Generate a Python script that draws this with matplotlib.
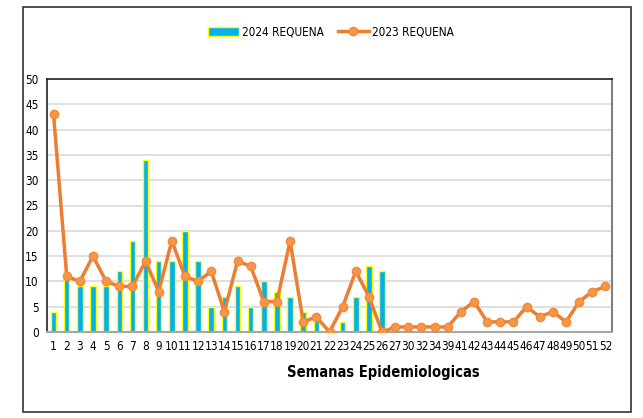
import numpy as np
import matplotlib.pyplot as plt
from matplotlib.patches import Rectangle

plt.rcParams['font.family'] = ['DejaVu Sans']
plt.rcParams['font.stretch'] = 'condensed'

# === Data ===
weeks = ["1", "2", "3", "4", "5", "6", "7", "8", "9", "10",
         "11", "12", "13", "14", "15", "16", "17", "18", "19", "20",
         "21", "22", "23", "24", "25", "26", "27", "30", "32", "34",
         "39", "41", "42", "43", "44", "45", "46", "47", "48", "49",
         "50", "51", "52"]

cases_2024 = [4, 11, 9, 9, 9, 12, 18, 34, 14, 14,
              20, 14, 5, 7, 9, 5, 10, 8, 7, 4,
              3, 0, 2, 7, 13, 12]

cases_2023 = [43, 11, 10, 15, 10, 9, 9, 14, 8, 18,
              11, 10, 12, 4, 14, 13, 6, 6, 18, 2,
              3, 0, 5, 12, 7, 0, 1, 1, 1, 1,
              1, 4, 6, 2, 2, 2, 5, 3, 4, 2,
              6, 8, 9]

x = np.arange(len(weeks))

fig = plt.figure(figsize=(6.43, 4.18), dpi=100)
ax = fig.add_axes([47 / 643, 1 - 332 / 418, 565 / 643, 253 / 418])

bars = ax.bar(x[:len(cases_2024)], cases_2024, width=0.42, color='#00B0F0',
              edgecolor='#FFFF00', linewidth=1, label='2024 REQUENA', zorder=2)
line, = ax.plot(x, cases_2023, color='#ED7D31', linewidth=2.5, marker='o', markersize=6,
                markerfacecolor='#F79646', markeredgecolor='#F08A3C',
                label='2023 REQUENA', zorder=3)

ax.set_xlim(-0.5, len(weeks) - 0.5)
ax.set_ylim(0, 50)
ax.set_yticks(range(0, 51, 5))
ax.set_xticks(x)
ax.set_xticklabels(weeks)
ax.tick_params(axis='both', length=0, labelsize=8.5, pad=6)
ax.grid(axis='y', color='#D9D9D9', linewidth=1.2, zorder=0)
ax.set_axisbelow(True)

for side in ['top', 'left']:
    ax.spines[side].set_color('#222222')
    ax.spines[side].set_linewidth(1.2)
ax.spines['right'].set_color('#808080')
ax.spines['right'].set_linewidth(1.5)
ax.spines['bottom'].set_color('#A6A6A6')
ax.spines['bottom'].set_linewidth(1.5)

fig.text(383 / 643, 1 - 372 / 418, 'Semanas Epidemiologicas', ha='center',
         va='center', fontsize=10.5, fontweight='bold')

fig.legend([bars, line], ['2024 REQUENA', '2023 REQUENA'], loc='center',
           bbox_to_anchor=(331 / 643, 1 - 32 / 418), ncol=2,
           frameon=False, fontsize=8.5, handlelength=2.6, columnspacing=1.2,
           handletextpad=0.3)

# outer chart frame
fig.patches.append(Rectangle((23 / 643, 1 - 412 / 418), 608 / 643, 405 / 418,
                             transform=fig.transFigure, fill=False,
                             edgecolor='#333333', linewidth=1.2))

fig.savefig('out.png', dpi=100)
